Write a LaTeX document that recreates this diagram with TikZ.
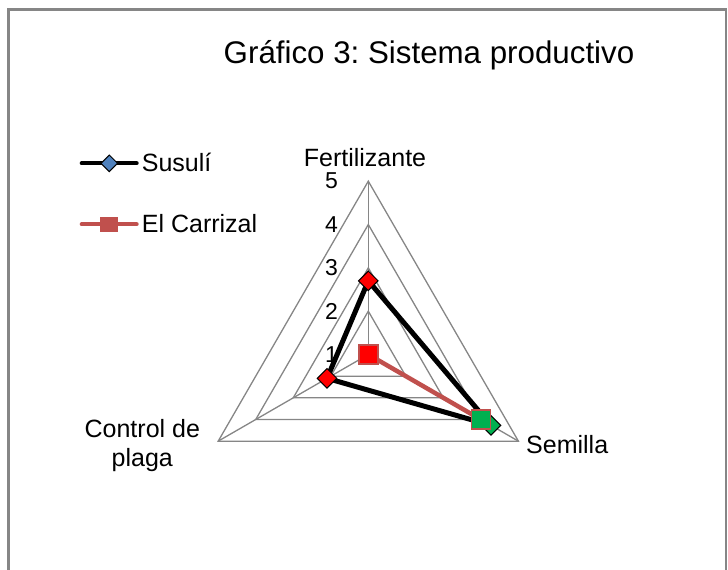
\documentclass[tikz,border=0pt]{standalone}
\usepackage{fontspec}
\setmainfont{Liberation Sans}
\usepackage{tikz}
\usetikzlibrary{shapes.geometric}
\usetikzlibrary{calc}
\definecolor{gridgray}{HTML}{868686}
\definecolor{carrizalred}{HTML}{C0504D}
\definecolor{markgreen}{HTML}{00B050}
\definecolor{legendblue}{HTML}{4F81BD}
\newcommand{\radarr}[1]{{((#1)-1)*43.33}} % Takes a value from 1 to 5, gives its distance from the centre
\frenchspacing

\begin{document}
\begin{tikzpicture}[x=1pt, y=-1pt,
    gridline/.style={gridgray, line width=1.3},
    susuli/.style={black, line width=5, line join=round},
    carrizal/.style={carrizalred, line width=4.5, line join=round},
    diamondmark/.style={diamond, draw=black, line width=1, inner sep=0, minimum width=20, minimum height=20},
    squaremark/.style={rectangle, draw=carrizalred, line width=1.5, inner sep=0, minimum size=19},
    lbl/.style={font=\fontsize{25}{29.4}\selectfont, inner sep=0},
    ticklbl/.style={font=\fontsize{23}{27}\selectfont, inner sep=0, anchor=east}]
        \useasboundingbox (0,0) rectangle (728,570);
        \clip (0,0) rectangle (728,570);

        % Frame (its bottom edge is cut off)
        \draw[gridgray, line width=2.2] (8.5,580) -- (8.5,9.5) -- (726.3,9.5) -- (726.3,580);

        % Title
        \node[font=\fontsize{31.3}{36}\selectfont, inner sep=0, anchor=base] (title) at (429,63.3) {Gráfico 3: Sistema productivo};

        % Legend
        \coordinate (leg1a) at (81.7,163.3);
        \coordinate (leg1b) at (136.7,163.3);
        \draw[susuli, line width=4, line cap=round] (leg1a) -- (leg1b);
        \node[diamondmark, fill=legendblue, minimum width=17, minimum height=17] (leg1m) at (109.3,163.3) {};
        \node[lbl, anchor=base west] (leg1t) at (141.7,171.7) {Susulí};
        \coordinate (leg2a) at (81.7,224.3);
        \coordinate (leg2b) at (136.7,224.3);
        \draw[carrizal, line width=4, line cap=round] (leg2a) -- (leg2b);
        \node[rectangle, fill=carrizalred, inner sep=0, minimum width=18, minimum height=15] (leg2m) at (109.2,224.3) {};
        \node[lbl, anchor=base west] (leg2t) at (141.7,232) {El Carrizal};

        \begin{scope}[shift={(368.3,354.5)}]
            % Axes
            \coordinate (O) at (0,0);
            \coordinate (fert) at (-90:173.3);
            \coordinate (sem) at (30:173.3);
            \coordinate (ctrl) at (150:173.3);
            \foreach \a in {fert, sem, ctrl} {
                \draw[gridline] (O) -- (\a);
            }

            % Level triangles
            \foreach \k in {2, 3, 4, 5} {
                \draw[gridline] (-90:\radarr{\k}) -- (30:\radarr{\k}) -- (150:\radarr{\k}) -- cycle;
            }

            % Level numbers
            \foreach \k in {1, ..., 5} {
                \node[ticklbl] (tick\k) at ($(-30.3,0)+(-90:\radarr{\k})$) {\k};
            }

            % Category names
            \node[lbl, anchor=base] (fertname) at (-3.3,-187.8) {Fertilizante};
            \node[lbl, anchor=base west] (semname) at (157.7,98.8) {Semilla};
            \node[lbl, anchor=north, align=center] (ctrlname) at (-226,64.5) {Control de\\plaga};

            % Susulí
            \coordinate (s1) at (-90:\radarr{2.7});
            \coordinate (s2) at (30:\radarr{4.27});
            \coordinate (s3) at (150:\radarr{2.1});
            \draw[susuli] (s1) -- (s2) -- (s3) -- cycle;
            \node[diamondmark, fill=red] (s1m) at (s1) {};
            \node[diamondmark, fill=markgreen] (s2m) at (s2) {};
            \node[diamondmark, fill=red] (s3m) at (s3) {};

            % El Carrizal
            \coordinate (c1) at (-90:\radarr{1});
            \coordinate (c2) at (30:\radarr{4});
            \coordinate (c3) at (150:\radarr{1});
            \draw[carrizal] (c1) -- (c2) -- (c3) -- cycle;
            \node[squaremark, fill=red] (c1m) at (c1) {};
            \node[squaremark, fill=markgreen] (c2m) at (c2) {};
        \end{scope}
    \end{tikzpicture}
\end{document}
